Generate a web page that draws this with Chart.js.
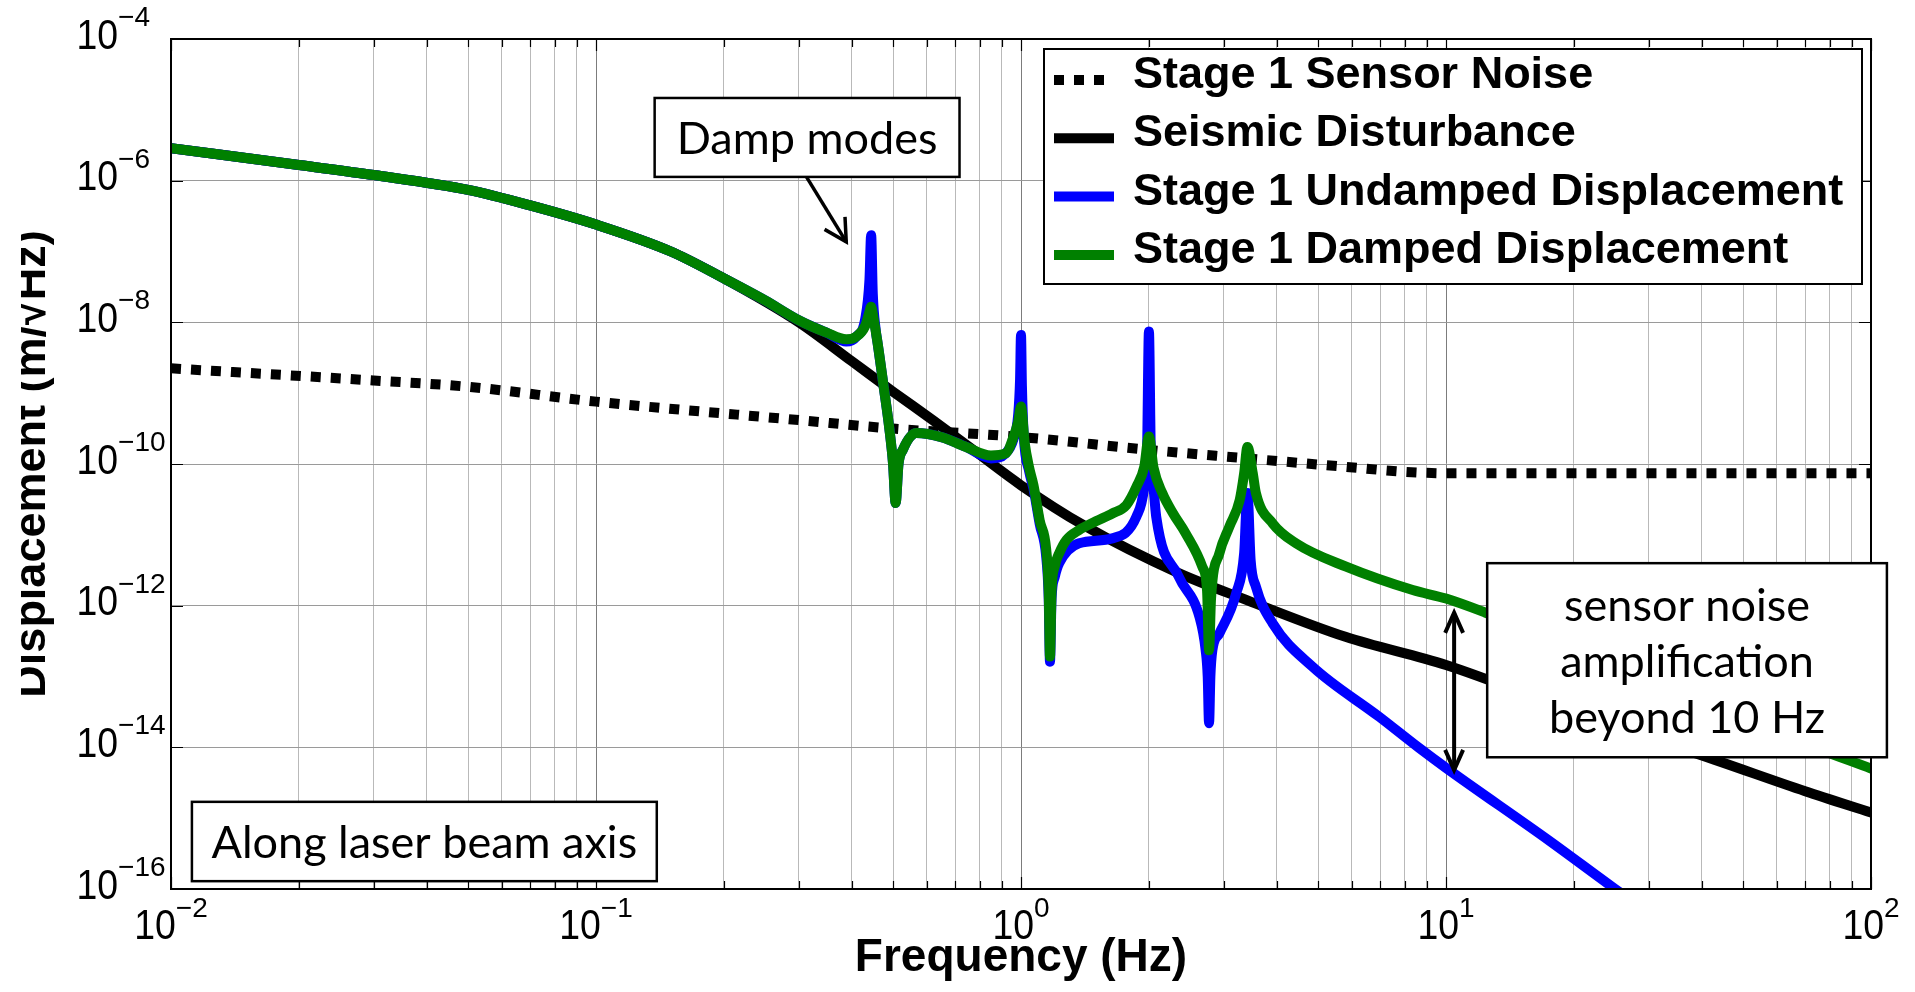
<!DOCTYPE html>
<html>
<head>
<meta charset="utf-8">
<title>Stage 1 displacement</title>
<script src="https://cdn.jsdelivr.net/npm/chart.js@4.4.1/dist/chart.umd.min.js"></script>
<style>
html,body{margin:0;padding:0;background:#fff;overflow:hidden}
#wrap{position:relative;width:1915px;height:992px}
</style>
</head>
<body>
<div id="wrap"><canvas id="chart" width="1915" height="992"></canvas></div>
<script>
// ---------------- data ----------------
const seriesLabels = ['Stage 1 Sensor Noise', 'Seismic Disturbance', 'Stage 1 Undamped Displacement', 'Stage 1 Damped Displacement'];

const sensorFreq  = [0.01, 0.03, 0.05, 0.1, 0.3, 0.5, 1, 2, 3.4, 5.8, 8, 10, 30, 100];
const sensorNoise = [2.24e-9, 1.51e-9, 1.23e-9, 7.59e-10, 4.17e-10, 3.16e-10, 2.40e-10, 1.58e-10, 1.20e-10, 9.12e-11, 7.76e-11, 7.41e-11, 7.41e-11, 7.41e-11];

const seismicFreq = [0.01, 0.02, 0.03, 0.05, 0.07, 0.1, 0.15, 0.2, 0.3, 0.4, 0.5, 0.62, 0.78, 1, 1.4, 2.35, 3.4, 5.8, 10, 20, 44, 70, 100];
const seismicDist = [2.88e-6, 1.66e-6, 1.20e-6, 7.41e-7, 4.47e-7, 2.40e-7, 1.0e-7, 4.17e-8, 1.0e-8, 2.82e-9, 1.05e-9, 4.17e-10, 1.51e-10, 5.01e-11, 1.38e-11, 2.88e-12, 1.20e-12, 3.63e-13, 1.45e-13, 3.16e-14, 6.31e-15, 2.40e-15, 1.20e-15];

const undampedFreq = [0.01, 0.02, 0.03, 0.05, 0.07, 0.1, 0.15, 0.2, 0.25, 0.3, 0.35, 0.388, 0.41, 0.43, 0.44, 0.444, 0.448, 0.455, 0.46, 0.475, 0.49, 0.5, 0.507, 0.515, 0.527, 0.567, 0.65, 0.743, 0.85, 0.92, 0.96, 0.985, 0.995, 1.0, 1.005, 1.015, 1.045, 1.07, 1.107, 1.146, 1.162, 1.17, 1.18, 1.2, 1.23, 1.37, 1.64, 1.87, 1.95, 1.98, 2.0, 2.02, 2.05, 2.08, 2.35, 2.63, 2.72, 2.75, 2.77, 2.79, 2.82, 2.93, 3.21, 3.35, 3.41, 3.47, 3.57, 3.91, 4.85, 6.97, 8.65, 10, 17.5, 25, 30];
const undampedDisp = [2.88e-6, 1.66e-6, 1.20e-6, 7.41e-7, 4.47e-7, 2.40e-7, 1.0e-7, 4.17e-8, 2.04e-8, 1.07e-8, 7.08e-9, 5.37e-9, 6.31e-9, 1.12e-8, 3.98e-8, 1.70e-7, 2.51e-8, 7.94e-9, 5.01e-9, 1.26e-9, 3.16e-10, 1.0e-10, 2.82e-11, 1.0e-10, 1.58e-10, 2.75e-10, 2.40e-10, 1.74e-10, 1.20e-10, 1.41e-10, 2.24e-10, 5.01e-10, 1.58e-9, 6.61e-9, 1.26e-9, 2.51e-10, 7.94e-11, 4.47e-11, 1.41e-11, 5.01e-12, 1.26e-12, 1.62e-13, 1.26e-12, 2.51e-12, 3.98e-12, 7.59e-12, 8.91e-12, 1.82e-11, 4.79e-11, 1.58e-10, 7.41e-9, 1.58e-10, 4.79e-11, 1.82e-11, 2.57e-12, 6.92e-13, 2.34e-13, 1.0e-13, 2.19e-14, 1.0e-13, 2.34e-13, 4.07e-13, 1.51e-12, 5.50e-12, 3.89e-11, 4.37e-12, 1.86e-12, 5.62e-13, 1.38e-13, 2.69e-14, 9.77e-15, 5.13e-15, 4.8e-16, 1.0e-16, 4.6e-17];

const dampedFreq = [0.01, 0.02, 0.03, 0.05, 0.07, 0.1, 0.15, 0.2, 0.25, 0.3, 0.35, 0.388, 0.41, 0.43, 0.44, 0.444, 0.45, 0.46, 0.475, 0.49, 0.5, 0.507, 0.515, 0.527, 0.567, 0.65, 0.743, 0.85, 0.92, 0.96, 0.985, 1.0, 1.02, 1.045, 1.07, 1.107, 1.146, 1.162, 1.17, 1.18, 1.2, 1.23, 1.28, 1.37, 1.5, 1.64, 1.77, 1.87, 1.95, 2.0, 2.05, 2.15, 2.28, 2.44, 2.67, 2.74, 2.77, 2.8, 2.93, 3.09, 3.27, 3.35, 3.41, 3.51, 3.57, 3.91, 4.44, 5.82, 8.35, 10, 12.4, 20, 40, 70, 100];
const dampedDisp = [2.88e-6, 1.66e-6, 1.20e-6, 7.41e-7, 4.47e-7, 2.40e-7, 1.0e-7, 4.17e-8, 2.04e-8, 1.07e-8, 7.08e-9, 5.75e-9, 6.31e-9, 8.91e-9, 1.41e-8, 1.66e-8, 1.12e-8, 5.01e-9, 1.26e-9, 3.16e-10, 1.0e-10, 2.82e-11, 1.0e-10, 1.58e-10, 2.75e-10, 2.40e-10, 1.74e-10, 1.32e-10, 1.41e-10, 2.40e-10, 3.98e-10, 6.46e-10, 2.0e-10, 8.91e-11, 5.01e-11, 1.58e-11, 6.31e-12, 1.58e-12, 1.91e-13, 1.58e-12, 3.55e-12, 5.50e-12, 8.51e-12, 1.17e-11, 1.55e-11, 2.0e-11, 2.63e-11, 4.79e-11, 9.12e-11, 2.45e-10, 8.91e-11, 3.89e-11, 2.0e-11, 1.05e-11, 3.55e-12, 1.66e-12, 2.34e-13, 1.26e-12, 5.50e-12, 1.29e-11, 3.09e-11, 7.41e-11, 1.74e-10, 7.41e-11, 3.89e-11, 1.45e-11, 7.59e-12, 3.55e-12, 1.66e-12, 1.26e-12, 7.94e-13, 2.51e-13, 4.47e-14, 1.12e-14, 5.01e-15];

// axis ticks and their labels (10 raised to the exponent)
const xTickValues = [0.01,0.02,0.03,0.04,0.05,0.06,0.07,0.08,0.09,0.1,0.2,0.3,0.4,0.5,0.6,0.7,0.8,0.9,1,2,3,4,5,6,7,8,9,10,20,30,40,50,60,70,80,90,100];
const xLabelValues    = [0.01, 0.1, 1, 10, 100];
const xLabelExponents = ['-2', '-1', '0', '1', '2'];
const yTickValues     = [1e-16, 1e-14, 1e-12, 1e-10, 1e-8, 1e-6, 1e-4];
const yLabelExponents = ['-16', '-14', '-12', '-10', '-8', '-6', '-4'];

const xTitle = 'Frequency (Hz)';
const yTitle = 'Displacement (m/√Hz)';

// annotations (data coordinates)
const noteBoxes = [
  {x0: 0.1374, x1: 0.7167, yTop: 1.47e-5, yBot: 1.13e-6, lines: ['Damp modes']},
  {x0: 0.0112, x1: 0.139, yTop: 1.70e-15, yBot: 1.29e-16, lines: ['Along laser beam axis']},
  {x0: 12.5, x1: 109, yTop: 3.98e-12, yBot: 7.24e-15, lines: ['sensor noise', 'amplification', 'beyond 10 Hz']}
];
const dampArrow = {fromX: 0.313, fromY: 1.12e-6, toX: 0.388, toY: 1.37e-7};
const gapArrow  = {x: 10.45, yTop: 7.94e-13, yBot: 4.79e-15};

// ---------------- rendering ----------------
const sans = "'Liberation Sans', Arial, Helvetica, sans-serif";
const noteFont = "Lato, 'Open Sans', sans-serif";
const pts = (fs, vs) => fs.map((f, i) => ({x: f, y: vs[i]}));
const isDecade = v => Math.abs(Math.log10(v) - Math.round(Math.log10(v))) < 1e-6;
const findIdx = (arr, v) => arr.findIndex(d => Math.abs(Math.log10(d) - Math.log10(v)) < 1e-6);

// draws "10" with a raised exponent
function drawPower(ctx, exp, x, baseline, align) {
  const mainPx = 43, supPx = 28, squeeze = 0.87;
  const supText = exp.replace('-', '\u2212');
  ctx.font = mainPx + 'px ' + sans;
  const wMain = ctx.measureText('10').width * squeeze;
  ctx.font = supPx + 'px ' + sans;
  const wSup = ctx.measureText(supText).width;
  const left = align === 'center' ? x - (wMain + wSup) / 2 : x;
  ctx.save();
  ctx.textAlign = 'left'; ctx.textBaseline = 'alphabetic'; ctx.fillStyle = '#000';
  ctx.translate(left, baseline); ctx.scale(squeeze, 1);
  ctx.font = mainPx + 'px ' + sans; ctx.fillText('10', 0, 0);
  ctx.restore();
  ctx.save();
  ctx.textAlign = 'left'; ctx.textBaseline = 'alphabetic'; ctx.fillStyle = '#000';
  ctx.font = supPx + 'px ' + sans; ctx.fillText(supText, left + wMain, baseline - 22.5);
  ctx.restore();
}

const overlay = {
  id: 'overlay',
  afterDraw(chart) {
    const {ctx, chartArea: a, scales: {x, y}} = chart;
    ctx.save();
    // inward tick marks on all four sides
    ctx.strokeStyle = '#000'; ctx.lineWidth = 1.2;
    ctx.beginPath();
    x.ticks.forEach(t => {
      const px = Math.round(x.getPixelForValue(t.value)) + 0.5, len = isDecade(t.value) ? 12 : 8;
      ctx.moveTo(px, a.bottom); ctx.lineTo(px, a.bottom - len);
      ctx.moveTo(px, a.top); ctx.lineTo(px, a.top + len);
    });
    y.ticks.forEach(t => {
      const py = Math.round(y.getPixelForValue(t.value)) + 0.5;
      ctx.moveTo(a.left, py); ctx.lineTo(a.left + 12, py);
      ctx.moveTo(a.right, py); ctx.lineTo(a.right - 12, py);
    });
    ctx.stroke();

    // axes frame
    ctx.strokeStyle = '#000'; ctx.lineWidth = 2;
    ctx.strokeRect(a.left, a.top, a.right - a.left, a.bottom - a.top);

    // tick labels, placed with the chart's own scales
    x.ticks.forEach(t => {
      const i = findIdx(xLabelValues, t.value);
      if (i >= 0) drawPower(ctx, xLabelExponents[i], x.getPixelForValue(t.value), a.bottom + 50, 'center');
    });
    y.ticks.forEach(t => {
      const i = findIdx(yTickValues, t.value);
      if (i >= 0) drawPower(ctx, yLabelExponents[i], a.left - 94.5, y.getPixelForValue(t.value) + 9.5, 'left');
    });

    // annotation boxes
    ctx.font = '45px ' + noteFont;
    ctx.textAlign = 'center'; ctx.textBaseline = 'middle';
    noteBoxes.forEach(b => {
      const l = x.getPixelForValue(b.x0), r = x.getPixelForValue(b.x1);
      const t = y.getPixelForValue(b.yTop), bt = y.getPixelForValue(b.yBot);
      ctx.fillStyle = '#fff'; ctx.fillRect(l, t, r - l, bt - t);
      ctx.strokeStyle = '#000'; ctx.lineWidth = 2.5; ctx.strokeRect(l, t, r - l, bt - t);
      ctx.fillStyle = '#000';
      const cx = (l + r) / 2, cy = (t + bt) / 2, lh = 56, n = b.lines.length;
      b.lines.forEach((s, i) => ctx.fillText(s, cx, cy + (i - (n - 1) / 2) * lh + 2));
    });

    // arrows
    const head = (tx, ty, ang, len, spread) => {
      ctx.beginPath();
      ctx.moveTo(tx - len * Math.cos(ang - spread), ty - len * Math.sin(ang - spread));
      ctx.lineTo(tx, ty);
      ctx.lineTo(tx - len * Math.cos(ang + spread), ty - len * Math.sin(ang + spread));
      ctx.stroke();
    };
    ctx.strokeStyle = '#000'; ctx.lineCap = 'butt'; ctx.lineJoin = 'miter';
    const fx = x.getPixelForValue(dampArrow.fromX), fy = y.getPixelForValue(dampArrow.fromY);
    const tx = x.getPixelForValue(dampArrow.toX), ty = y.getPixelForValue(dampArrow.toY);
    ctx.lineWidth = 3.5;
    ctx.beginPath(); ctx.moveTo(fx, fy); ctx.lineTo(tx, ty); ctx.stroke();
    head(tx, ty, Math.atan2(ty - fy, tx - fx), 25, 0.5);
    const gx = x.getPixelForValue(gapArrow.x), g1 = y.getPixelForValue(gapArrow.yTop), g2 = y.getPixelForValue(gapArrow.yBot);
    ctx.lineWidth = 4;
    ctx.beginPath(); ctx.moveTo(gx, g1); ctx.lineTo(gx, g2); ctx.stroke();
    head(gx, g1, -Math.PI / 2, 22, 0.42);
    head(gx, g2, Math.PI / 2, 22, 0.42);

    // legend
    const lgL = a.right - 827, lgT = a.top + 10, lgW = 818, lgH = 235;
    ctx.fillStyle = '#fff'; ctx.fillRect(lgL, lgT, lgW, lgH);
    ctx.strokeStyle = '#000'; ctx.lineWidth = 2; ctx.strokeRect(lgL, lgT, lgW, lgH);
    ctx.font = 'bold 45px ' + sans; ctx.textAlign = 'left'; ctx.textBaseline = 'alphabetic';
    chart.data.datasets.forEach((ds, i) => {
      const base = lgT + 39 + i * 58.3;
      ctx.save();
      ctx.strokeStyle = ds.borderColor; ctx.lineWidth = ds.borderWidth;
      ctx.setLineDash(ds.borderDash || []); ctx.lineCap = 'butt';
      ctx.beginPath(); ctx.moveTo(lgL + 10, base - 8); ctx.lineTo(lgL + 70, base - 8); ctx.stroke();
      ctx.restore();
      ctx.fillStyle = '#000';
      ctx.fillText(ds.label, lgL + 89, base);
    });

    // y axis title (left part cut off as in the reference)
    ctx.save();
    ctx.beginPath(); ctx.rect(21, 0, chart.width, chart.height); ctx.clip();
    ctx.translate(45, (a.top + a.bottom) / 2); ctx.rotate(-Math.PI / 2);
    ctx.font = 'bold 45px ' + sans; ctx.textAlign = 'center'; ctx.textBaseline = 'alphabetic';
    ctx.fillStyle = '#000'; ctx.fillText(yTitle, 0, 0);
    ctx.restore();
    ctx.restore();
  }
};

const lineBase = {pointRadius: 0, fill: false, borderWidth: 10, borderJoinStyle: 'round', borderCapStyle: 'round', cubicInterpolationMode: 'monotone'};

new Chart(document.getElementById('chart'), {
  type: 'line',
  data: {
    datasets: [
      Object.assign({}, lineBase, {label: seriesLabels[0], data: pts(sensorFreq, sensorNoise), borderColor: '#000000', borderDash: [10, 10], borderCapStyle: 'butt', borderJoinStyle: 'miter', order: 4}),
      Object.assign({}, lineBase, {label: seriesLabels[1], data: pts(seismicFreq, seismicDist), borderColor: '#000000', order: 3}),
      Object.assign({}, lineBase, {label: seriesLabels[2], data: pts(undampedFreq, undampedDisp), borderColor: '#0000ff', order: 2}),
      Object.assign({}, lineBase, {label: seriesLabels[3], data: pts(dampedFreq, dampedDisp), borderColor: '#008000', order: 1})
    ]
  },
  options: {
    responsive: false,
    animation: false,
    events: [],
    layout: {padding: {left: 0, top: 39, right: 44, bottom: 0}},
    plugins: {legend: {display: false}, tooltip: {enabled: false}},
    scales: {
      x: {
        type: 'logarithmic', min: 0.01, max: 100,
        afterBuildTicks: s => { s.ticks = xTickValues.map(v => ({value: v, major: isDecade(v)})); },
        afterFit: s => { s.height = 103; },
        grid: {drawTicks: false, lineWidth: 1, color: c => (c.tick && isDecade(c.tick.value)) ? '#7c7c7c' : '#b9b9b9'},
        border: {display: true, color: '#000', width: 2},
        ticks: {display: false, autoSkip: false},
        title: {display: true, text: xTitle, color: '#000', font: {family: sans, size: 46, weight: 'bold'}, padding: {top: 0, bottom: 6}}
      },
      y: {
        type: 'logarithmic', min: 1e-16, max: 1e-4,
        afterBuildTicks: s => { s.ticks = yTickValues.map(v => ({value: v})); },
        afterFit: s => { s.width = 171; },
        grid: {drawTicks: false, lineWidth: 1, color: '#9a9a9a'},
        border: {display: true, color: '#000', width: 2},
        ticks: {display: false, autoSkip: false}
      }
    }
  },
  plugins: [overlay]
});
</script>
</body>
</html>
